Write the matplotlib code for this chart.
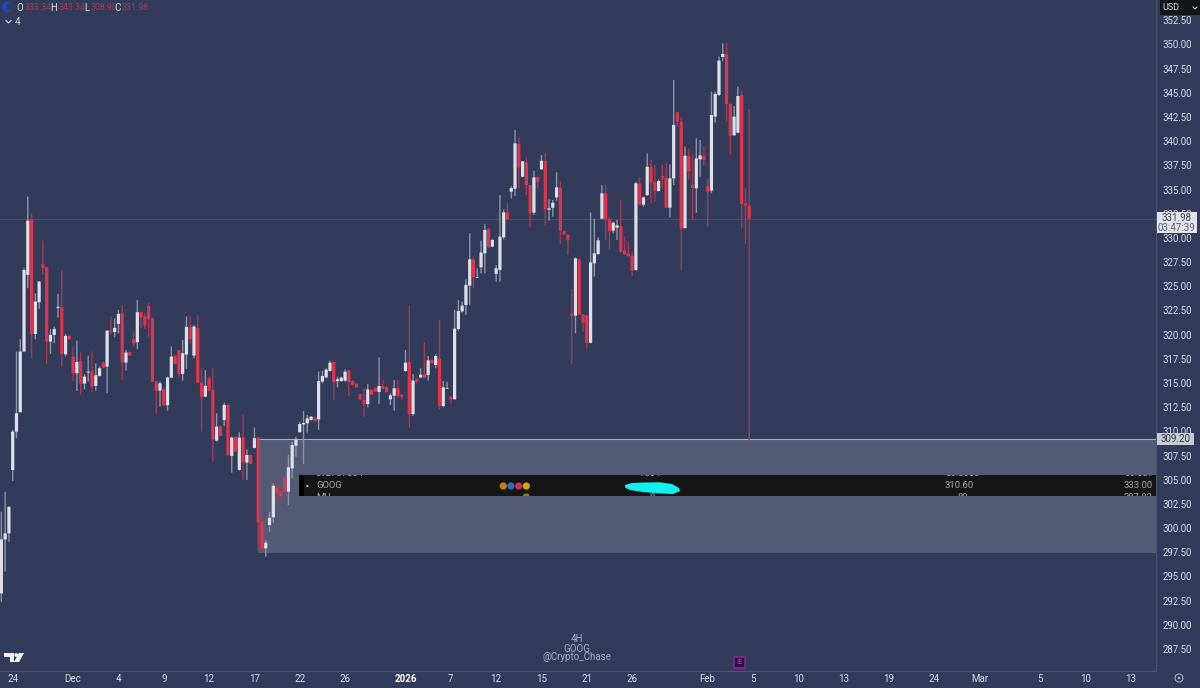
import numpy as np
import matplotlib
matplotlib.use("Agg")
import matplotlib.pyplot as plt
from matplotlib.patches import Rectangle, Circle, Polygon
from matplotlib.lines import Line2D
from matplotlib.transforms import blended_transform_factory

plt.rcParams['font.family'] = ['Roboto', 'Noto Sans', 'DejaVu Sans']

opens = [293.25, 298.83, 299.45,
 306.01, 309.97, 311.97, 318.25, 326.18, 331.93, 320.07, 323.35, 327.28, 326.97,
 319.28, 319.97, 322.76, 322.83, 317.97, 319.87, 317.73, 316.01, 317.25, 314.94,
 316.08, 316.21, 314.70, 315.73, 317.11, 316.70, 320.42, 320.28, 321.11, 322.21,
 317.11, 318.18, 319.52, 319.21, 322.32, 321.87, 322.97, 321.63, 315.15, 314.21,
 314.35, 312.70, 315.56, 317.80, 318.39, 315.94, 317.94, 320.80, 317.83, 320.66,
 315.04, 313.59, 315.49, 314.28, 309.04, 310.49, 311.18, 312.73, 307.46, 309.42,
 306.01, 309.35, 306.77, 307.56, 308.29, 309.38, 300.66, 297.90, 300.31, 301.11,
 304.21, 303.76, 305.24, 303.76, 306.17, 308.52, 309.90, 310.72, 310.83, 311.17,
 311.41, 311.24, 315.14, 315.58, 316.24, 317.17, 315.20, 315.20, 315.24, 316.27,
 315.20, 314.93, 313.86, 313.24, 312.83, 314.27, 314.48, 314.07, 314.69, 314.55,
 313.31, 313.69, 314.48, 313.79, 316.24, 317.17, 311.79, 315.38, 315.58, 315.93,
 315.82, 317.38, 316.86, 317.51, 312.62, 314.41, 313.58, 313.31, 320.58, 322.40,
 323.07, 325.07, 327.79, 325.86, 326.96, 328.41, 330.89, 329.10, 326.27, 326.69,
 330.06, 332.64, 334.78, 335.09, 339.71, 336.33, 337.78, 335.47, 332.61, 336.30,
 337.09, 337.98, 332.92, 333.12, 334.19, 335.16, 330.71, 330.33, 322.16, 321.96,
 327.78, 322.09, 321.99, 319.16, 327.37, 328.33, 331.99, 334.61, 331.92, 330.75,
 331.06, 331.23, 328.68, 328.40, 328.16, 326.68, 335.64, 333.43, 334.43, 337.36,
 335.78, 334.85, 336.40, 336.26, 333.12, 336.16, 342.99, 342.02, 331.02, 338.47,
 335.47, 335.13, 338.13, 338.47, 335.37, 334.89, 342.54, 344.78, 348.71, 348.98,
 343.85, 340.61, 340.88, 344.78, 333.58, 333.34]

closes = [298.83, 299.45, 302.21,
 309.97, 311.87, 318.25, 326.69, 331.79, 320.07, 323.42, 325.49, 326.90, 319.28,
 319.97, 320.59, 322.87, 318.01, 319.87, 319.52, 316.01, 317.18, 314.94, 315.66,
 316.18, 314.63, 315.80, 316.52, 316.59, 320.42, 320.25, 320.70, 322.14, 317.14,
 318.14, 317.83, 319.11, 322.32, 321.76, 320.94, 321.59, 315.11, 314.21, 314.97,
 312.70, 315.56, 317.73, 316.97, 315.90, 318.08, 320.80, 319.52, 320.83, 315.04,
 313.59, 314.70, 314.21, 309.18, 310.49, 309.53, 312.73, 307.53, 309.35, 307.91,
 309.35, 306.84, 307.56, 306.63, 309.29, 300.59, 297.90, 298.49, 301.07, 304.37,
 303.66, 303.31, 303.76, 306.28, 308.59, 309.17, 310.76, 310.86, 311.34, 311.52,
 311.10, 315.20, 315.72, 316.38, 317.10, 315.10, 315.38, 315.55, 316.17, 315.10,
 314.82, 314.55, 313.31, 312.79, 314.34, 313.79, 314.10, 314.69, 314.41, 314.07,
 313.72, 314.45, 313.65, 313.58, 317.10, 311.76, 315.24, 315.10, 315.86, 315.51,
 317.34, 317.03, 317.79, 312.62, 314.55, 314.48, 313.31, 320.62, 322.44, 323.00,
 325.14, 327.79, 325.93, 325.93, 328.48, 330.82, 329.10, 329.79, 326.86, 330.13,
 332.64, 331.92, 335.16, 339.78, 337.26, 337.92, 335.47, 332.54, 336.26, 335.81,
 337.98, 332.99, 333.06, 333.64, 335.23, 330.75, 330.37, 329.78, 321.96, 327.88,
 322.06, 321.23, 319.16, 327.47, 328.40, 329.75, 334.61, 331.85, 330.71, 331.57,
 331.30, 328.57, 328.30, 328.13, 326.61, 335.64, 333.47, 334.19, 337.36, 335.71,
 334.88, 335.88, 336.16, 333.12, 336.16, 341.68, 342.02, 330.96, 338.50, 336.88,
 335.16, 338.23, 338.54, 338.06, 334.78, 342.71, 344.88, 348.33, 349.02, 343.85,
 340.57, 342.54, 344.67, 333.51, 333.33, 331.98]

highs = [301.69, 303.76, 302.21,
 310.15, 318.25, 319.52, 326.87, 334.28, 332.55, 324.28, 325.49, 329.73, 326.97,
 320.56, 320.83, 324.21, 326.62, 320.07, 319.94, 318.77, 319.39, 318.18, 315.90,
 317.83, 318.25, 317.04, 316.70, 317.21, 320.42, 321.87, 321.69, 322.56, 323.07,
 318.42, 318.25, 320.32, 323.59, 322.38, 322.21, 323.31, 321.80, 315.15, 315.15,
 314.46, 315.66, 318.77, 317.90, 318.42, 319.45, 321.87, 321.87, 321.00, 322.04,
 316.52, 316.35, 315.66, 316.52, 311.87, 310.66, 312.97, 312.84, 309.46, 309.46,
 309.91, 311.80, 308.15, 307.56, 310.39, 309.38, 301.52, 298.76, 301.66, 304.62,
 305.14, 304.10, 305.31, 307.55, 308.93, 309.45, 311.00, 312.10, 311.69, 311.58,
 311.52, 316.17, 316.27, 316.51, 317.31, 317.17, 315.65, 315.65, 316.41, 316.41,
 315.31, 314.96, 313.93, 314.45, 314.89, 314.34, 314.55, 317.65, 315.31, 314.69,
 313.93, 315.31, 315.31, 313.86, 318.41, 322.96, 315.93, 315.48, 316.51, 319.20,
 317.79, 317.44, 317.96, 321.51, 315.20, 315.14, 313.65, 322.55, 323.58, 323.41,
 325.72, 330.48, 328.07, 326.86, 329.72, 331.44, 331.10, 329.86, 327.20, 334.44,
 332.95, 333.64, 335.37, 341.16, 340.40, 337.92, 338.33, 335.47, 336.95, 336.33,
 338.57, 338.81, 333.99, 333.92, 336.78, 335.81, 330.75, 330.40, 324.71, 327.99,
 327.82, 322.13, 322.03, 332.64, 331.99, 330.06, 335.47, 335.47, 332.19, 331.68,
 331.85, 333.92, 330.13, 329.61, 328.57, 335.81, 336.26, 334.26, 338.74, 338.05,
 337.54, 336.05, 337.54, 337.71, 337.61, 346.33, 343.05, 342.47, 339.44, 339.26,
 338.64, 340.30, 340.12, 339.50, 336.16, 345.12, 345.12, 348.74, 350.12, 350.12,
 343.92, 343.64, 345.64, 345.23, 335.13, 343.34]

lows = [292.38, 295.49, 298.59,
 304.87, 309.29, 311.97, 318.25, 324.80, 317.56, 319.52, 322.66, 326.18, 316.97,
 318.01, 319.11, 321.76, 316.70, 317.73, 319.45, 315.15, 314.18, 313.80, 314.35,
 315.15, 314.04, 314.21, 315.66, 316.52, 313.94, 320.07, 319.73, 320.14, 315.32,
 316.28, 317.83, 318.77, 318.49, 320.66, 320.59, 319.80, 315.11, 311.87, 312.56,
 312.56, 312.15, 315.49, 316.94, 315.66, 315.25, 316.46, 319.11, 317.56, 314.97,
 309.97, 313.53, 314.11, 306.87, 308.94, 309.46, 310.56, 307.46, 305.74, 307.91,
 305.94, 304.98, 304.98, 306.60, 308.22, 297.73, 297.56, 297.04, 299.62, 300.55,
 302.73, 302.55, 303.66, 302.38, 305.14, 307.38, 309.90, 306.62, 309.86, 311.10,
 311.00, 310.14, 314.96, 315.48, 316.17, 313.24, 314.55, 315.14, 315.14, 313.65,
 314.79, 314.51, 313.24, 311.52, 312.48, 313.76, 314.07, 312.83, 314.38, 314.03,
 312.72, 312.14, 313.41, 313.31, 316.17, 310.41, 311.58, 314.96, 315.51, 315.48,
 315.24, 317.00, 316.51, 312.27, 312.48, 314.38, 312.89, 313.31, 320.41, 322.27,
 322.03, 323.07, 324.79, 325.83, 326.34, 326.34, 328.93, 329.03, 325.48, 325.48,
 329.85, 331.85, 334.09, 334.33, 335.12, 336.26, 334.43, 331.09, 332.37, 335.12,
 337.02, 331.23, 331.78, 332.19, 333.85, 329.37, 330.30, 328.23, 316.96, 320.13,
 322.03, 320.30, 318.58, 319.09, 325.99, 328.26, 331.92, 329.78, 328.82, 330.47,
 329.78, 328.47, 328.23, 328.06, 326.06, 326.61, 333.33, 333.23, 334.33, 333.57,
 333.75, 334.78, 335.12, 333.06, 332.12, 335.47, 341.50, 326.68, 330.96, 336.06,
 331.85, 332.61, 336.33, 337.44, 331.16, 334.61, 341.92, 344.67, 348.29, 342.02,
 338.57, 340.54, 340.81, 330.99, 329.37, 308.90]

first_bar = -3
time_ticks = [0, 16, 28, 40, 52, 64, 76, 88, 104, 116, 128, 140, 152, 164, 184, 196,
              208, 220, 232, 244, 256, 272, 284, 296]
time_labels = ['24', 'Dec', '4', '9', '12', '17', '22', '26', '2026', '7', '12', '15',
               '21', '26', 'Feb', '5', '10', '13', '19', '24', 'Mar', '5', '10', '13']
price_ticks = [287.5 + 2.5 * k for k in range(27)]
zone_low, zone_high = 297.4, 309.2
zone_start_bar = 65
last_price = 331.98
countdown = '03:47:39'
legend_pairs = [('O', '333.34'), ('H', '343.34'), ('L', '308.90'), ('C', '331.98')]
watermark = ['4H', 'GOOG', '@Crypto_Chase']
table_row = ['GOOG', '310.60', '333.00']

BG = '#323c5a'
UP = '#dde0e8'
DOWN = '#e0344c'
UPW = '#8d94aa'
DOWNW = '#a53a52'
AXT = '#d8dde8'
W, H = 1200, 688

def fx(px):
    return px / W
def fy(py):
    return 1 - py / H

fig = plt.figure(figsize=(12, 6.88), dpi=100, facecolor=BG)
ax = fig.add_axes([0, 1 - 671 / H, 1156 / W, 671 / H], facecolor=BG)
ax.set_xlim(-3.36, 302.7)
ax.set_ylim(285.22, 354.6)
for s in ['top', 'left']:
    ax.spines[s].set_visible(False)
ax.spines['right'].set_color('#4b5572')
ax.spines['bottom'].set_color('#4b5572')

bars = np.arange(len(opens)) + first_bar
o, h, l, c = map(np.array, (opens, highs, lows, closes))
up = c >= o

ax.axhline(last_price, color='#465170', lw=0.7, zorder=1)

ax.add_patch(Rectangle((zone_start_bar, zone_low), 400, zone_high - zone_low,
                       facecolor='#535a76', edgecolor='none', zorder=1.5))
ax.plot([zone_start_bar, 400], [zone_high, zone_high], color='#a9aebd', lw=0.8, zorder=1.6)

wick_up = ax.vlines(bars[up], l[up], h[up], color=UPW, lw=1.0, zorder=2)
wick_dn = ax.vlines(bars[~up], l[~up], h[~up], color=DOWNW, lw=1.0, zorder=2)
wick_up.set_snap(False)
wick_dn.set_snap(False)
body_up = ax.bar(bars[up], (c - o)[up], bottom=o[up], width=0.85, color=UP, zorder=3, linewidth=0)
body_dn = ax.bar(bars[~up], (c - o)[~up], bottom=o[~up], width=0.85, color=DOWN, zorder=3, linewidth=0)
for patch in list(body_up) + list(body_dn):
    patch.set_snap(False)

ax.set_xticks(time_ticks)
ax.set_xticklabels(time_labels, fontsize=7, color=AXT)
for lab, txt in zip(ax.get_xticklabels(), time_labels):
    if txt == '2026':
        lab.set_fontweight('bold')
        lab.set_color('#ffffff')
ax.yaxis.tick_right()
ax.set_yticks(price_ticks)
ax.set_yticklabels([f'{p:.2f}' for p in price_ticks], fontsize=6.9, color=AXT)
ax.tick_params(axis='both', length=0)
ax.tick_params(axis='y', pad=4.5)
ax.tick_params(axis='x', pad=2.5)

# price boxes on the axis
tr = blended_transform_factory(ax.transAxes, ax.transData)
ax.add_patch(Rectangle((1.0006, last_price - 1.45), 0.035, 2.2, transform=tr, clip_on=False,
                       facecolor='#e2e3e8', edgecolor='none', zorder=6))
ax.text(1.0175, last_price + 0.05, f'{last_price:.2f}', transform=tr, ha='center', va='center',
        fontsize=7, color='#3a3f4e', zorder=7, clip_on=False)
ax.text(1.0175, last_price - 0.95, countdown, transform=tr, ha='center', va='center',
        fontsize=7, color='#5a5f6e', zorder=7, clip_on=False)
ax.add_patch(Rectangle((1.0006, zone_high - 0.62), 0.032, 1.24, transform=tr, clip_on=False,
                       facecolor='#c9cbd3', edgecolor='none', zorder=6))
ax.text(1.0165, zone_high, f'{zone_high:.2f}', transform=tr, ha='center', va='center',
        fontsize=7, color='#30343f', zorder=7, clip_on=False)

# strip from the pasted watchlist
sa = fig.add_axes([fx(299), fy(495.5), (1156 - 299) / W, 20.5 / H], facecolor='#161616', zorder=5)
sa.set_xlim(299, 1156)
sa.set_ylim(495.5, 475)
sa.axis('off')
sa.add_patch(Rectangle((299, 475), 857, 20.5, facecolor='#161616', edgecolor='none'))
sa.add_patch(Rectangle((299, 475), 5, 20.5, facecolor='#000000', edgecolor='none'))
GR = '#a8a8a8'
FS = 6.8
sa.text(316, 486, table_row[0], fontsize=FS, color=GR, va='center', clip_on=True)
sa.text(945, 486, table_row[1], fontsize=FS, color=GR, va='center', clip_on=True)
sa.text(1124, 486, table_row[2], fontsize=FS, color=GR, va='center', clip_on=True)
sa.text(316, 473, '312737384', fontsize=FS, color=GR, va='center', clip_on=True)
sa.text(640, 473, '7534', fontsize=FS, color=GR, va='center', clip_on=True)
sa.text(945, 473, '55.3000', fontsize=FS, color=GR, va='center', clip_on=True)
sa.text(1124, 473, '55.037', fontsize=FS, color=GR, va='center', clip_on=True)
sa.text(316, 498, 'MU', fontsize=FS, color=GR, va='center', clip_on=True)
sa.text(650, 498, '8', fontsize=FS, color=GR, va='center', clip_on=True)
sa.text(958, 498, '80', fontsize=FS, color=GR, va='center', clip_on=True)
sa.text(1124, 498, '287.82', fontsize=FS, color=GR, va='center', clip_on=True)
sa.add_patch(Polygon([(306.5, 484.5), (306.5, 487.5), (309, 486)], facecolor='#cccccc', edgecolor='none'))
for cx, col in zip([503.3, 511, 518.7, 526.3], ['#b8860b', '#2a6fc0', '#c8324a', '#d4a017']):
    sa.add_patch(Circle((cx, 486), 3.6, facecolor=col, edgecolor='none'))
sa.add_patch(Circle((526.3, 497), 3.6, facecolor='#8a7a20', edgecolor='none'))
sa.add_patch(Polygon([(625, 485), (632, 483), (645, 482.5), (660, 482.3), (672, 484), (679, 488),
                      (680, 491), (673, 494), (660, 493.5), (643, 492), (630, 490), (625, 487.5)],
                     facecolor='#0ff0f0', edgecolor='none'))

# header texts
x_lab = [20, 54, 87, 118]
x_val = [24.5, 58.5, 90.5, 122]
for (k, v), xl, xv in zip(legend_pairs, x_lab, x_val):
    fig.text(fx(xl), fy(8), k, fontsize=7, color=AXT, ha='center', va='center')
    fig.text(fx(xv), fy(8), v, fontsize=6.3, color='#a53a52', ha='left', va='center')
fig.add_artist(Line2D([fx(6), fx(8.5), fx(11)], [fy(20.5), fy(23), fy(20.5)], color=AXT, lw=0.8))
fig.text(fx(15), fy(22), '4', fontsize=7, color=AXT, va='center')

ic = fig.add_axes([0, 0, 1, 1], facecolor='none', zorder=8)
ic.set_xlim(0, W)
ic.set_ylim(H, 0)
ic.axis('off')
ic.add_patch(Circle((7.5, 7), 5.5, facecolor='#2346c8', edgecolor='none'))
ic.add_patch(Circle((9.5, 7), 3.6, facecolor=BG, edgecolor='none'))
# USD button
ic.add_patch(Rectangle((1160, 0), 40, 14.5, facecolor='#12141c', edgecolor='none'))
ic.text(1162, 7.5, 'USD', fontsize=6.5, color='#dddddd', va='center')
ic.plot([1193, 1195, 1197], [7, 9, 7], color='#dddddd', lw=0.7)
# logo
ic.add_patch(Polygon([(4, 653), (14, 653), (14, 662), (9.5, 662), (9.5, 657), (4, 657)], facecolor='#f2f2f2', edgecolor='none'))
ic.add_patch(Circle((16.2, 655), 1.9, facecolor='#f2f2f2', edgecolor='none'))
ic.add_patch(Polygon([(19, 653), (24, 653), (19, 662), (14, 662)], facecolor='#f2f2f2', edgecolor='none'))
# earnings marker
ic.add_patch(Rectangle((734, 656.5), 10.5, 11.5, facecolor='#2c1240', edgecolor='#8f1fa8', lw=1.2))
ic.text(739.2, 662.3, 'E', fontsize=5.5, color='#d050e0', ha='center', va='center')
# settings icon
ic.add_patch(Circle((1179, 678), 4, facecolor='none', edgecolor='#aab0c0', lw=0.8))
ic.add_patch(Circle((1179, 678), 1.3, facecolor='#aab0c0', edgecolor='none'))
for t, yy in zip(watermark, [639, 648.5, 657.5]):
    ic.text(577, yy, t, fontsize=7, color='#a9afc0', ha='center', va='center')

fig.savefig('out.png', dpi=100, facecolor=BG)
